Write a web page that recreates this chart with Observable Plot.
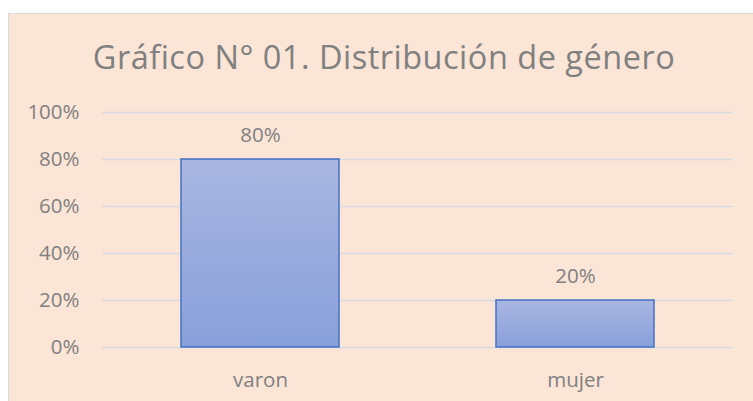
<!DOCTYPE html>
<html>
<head>
<meta charset="utf-8">
<script src="https://cdn.jsdelivr.net/npm/d3@7"></script>
<script src="https://cdn.jsdelivr.net/npm/@observablehq/plot@0.6"></script>
<style>
  html, body { margin: 0; padding: 0; width: 753px; height: 401px; overflow: hidden; background: #ffffff; }
  #frame { position: absolute; left: 8px; top: 13px; width: 800px; height: 450px; background: #fbe5d6; border: 1px solid #d9d9d9; box-sizing: border-box; }
  #title { position: absolute; left: 8px; width: 752px; top: 37px; text-align: center; font-family: "Open Sans", sans-serif; font-size: 32.5px; letter-spacing: 0.5px; line-height: 40px; color: #808080; white-space: nowrap; }
  #chart { position: absolute; left: 0; top: 92px; }
</style>
</head>
<body>
<div id="frame"></div>
<div id="title">Gráfico N° 01. Distribución de género</div>
<div id="chart"></div>
<script>
const categories = ["varon", "mujer"];
const values = [0.80, 0.20];
const yTicks = [0, 0.2, 0.4, 0.6, 0.8, 1.0];

const data = categories.map((c, i) => ({ category: c, value: values[i] }));
const pct = d3.format(".0%");
const textColor = "#808080";
const fs = 20.5;

const svg = Plot.plot({
  width: 753,
  height: 309,
  marginTop: 20,
  marginBottom: 54,
  marginLeft: 102,
  marginRight: 20,
  style: { background: "transparent", fontFamily: "'Open Sans', sans-serif", fontSize: fs + "px", color: textColor },
  x: { domain: categories, paddingInner: 0.5, paddingOuter: 0.25, label: null },
  y: { domain: [0, 1], label: null },
  marks: [
    Plot.gridY(yTicks, { stroke: "#d6dbe2", strokeOpacity: 1, strokeWidth: 1.3 }),
    Plot.barY(data, { x: "category", y: "value", fill: "url(#barGrad)", stroke: "#4472c4", strokeWidth: 1.5 }),
    Plot.text(data, { x: "category", y: "value", text: d => pct(d.value), dy: -24, fontSize: fs, fill: textColor }),
    Plot.axisX({ tickSize: 0, tickPadding: 25, fontSize: fs, fill: textColor }),
    Plot.axisY({ ticks: yTicks, tickFormat: pct, tickSize: 0, tickPadding: 23, fontSize: fs, fill: textColor })
  ]
});

const defs = d3.select(svg).insert("defs", ":first-child");
const grad = defs.append("linearGradient").attr("id", "barGrad").attr("x1", 0).attr("y1", 0).attr("x2", 0).attr("y2", 1);
grad.append("stop").attr("offset", "0%").attr("stop-color", "#a9b6e1");
grad.append("stop").attr("offset", "100%").attr("stop-color", "#88a0da");

document.getElementById("chart").appendChild(svg);
</script>
</body>
</html>
